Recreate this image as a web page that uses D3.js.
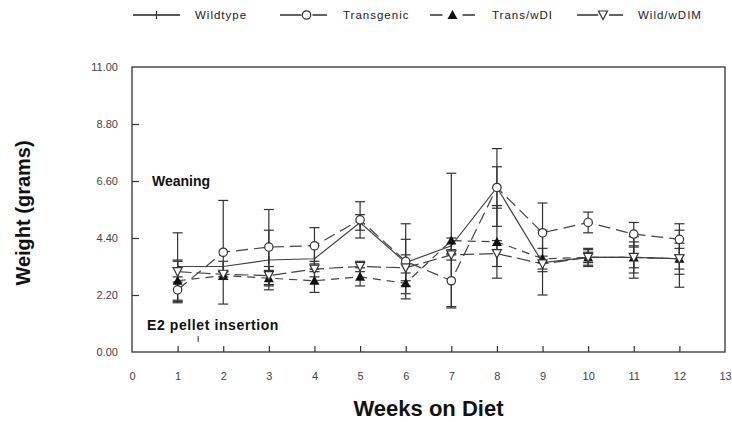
<!DOCTYPE html>
<html><head><meta charset="utf-8">
<script src="https://cdn.jsdelivr.net/npm/d3@7"></script>
<style>body{margin:0;background:#fff}svg{display:block}</style>
</head><body>
<svg id="c" width="732" height="422"></svg>
<script>
const weeks = [1,2,3,4,5,6,7,8,9,10,11,12];
const wildtype      = [3.3, 3.3, 3.55, 3.6, 5.0, 3.45, 4.1, 6.35, 3.45, 3.65, 3.65, 3.6];
const wildtypeErr   = [1.3, 0.2, 1.15, 0.5, 0.3, 0.9, 0.3, 0.8, 1.25, 0.35, 0.6, 0.6];
const transgenic    = [2.4, 3.85, 4.05, 4.1, 5.1, 3.5, 2.75, 6.35, 4.6, 5.0, 4.55, 4.35];
const transgenicErr = [0.5, 2.0, 1.45, 0.7, 0.7, 1.45, 1.0, 1.5, 1.15, 0.4, 0.45, 0.6];
const transWDI      = [2.75, 2.95, 2.85, 2.75, 2.9, 2.65, 4.3, 4.25, 3.6, 3.65, 3.65, 3.6];
const transWDIErr   = [0.8, 0.15, 0.3, 0.45, 0.35, 0.4, 2.6, 1.4, 0.4, 0.3, 0.8, 1.1];
const wildWDIM      = [3.1, 3.0, 2.95, 3.2, 3.3, 3.25, 3.75, 3.8, 3.4, 3.65, 3.65, 3.6];
const wildWDIMErr   = [0.4, 0.1, 0.35, 0.3, 0.2, 0.5, 0.2, 0.5, 0.3, 0.2, 0.4, 0.4];
const seriesNames = ["Wildtype","Transgenic","Trans/wDI","Wild/wDIM"];
const xTicks = [0,1,2,3,4,5,6,7,8,9,10,11,12,13];
const yTicks = [0,2.2,4.4,6.6,8.8,11];

const svg = d3.select("#c");
const L=132, R=725, T=67, B=352;
const x = d3.scaleLinear().domain([0,13]).range([L,R]);
const y = d3.scaleLinear().domain([0,11]).range([B,T]);
const font = "'Liberation Sans', Arial, sans-serif";

svg.append("rect").attr("x",L).attr("y",T).attr("width",R-L).attr("height",B-T)
  .attr("fill","none").attr("stroke","#333").attr("stroke-width",1.3);

const xa = svg.append("g").attr("transform",`translate(0,${B})`)
  .call(d3.axisBottom(x).tickValues(xTicks).tickFormat(d3.format("d")).tickSizeInner(-6).tickSizeOuter(0).tickPadding(20));
const ya = svg.append("g").attr("transform",`translate(${L},0)`)
  .call(d3.axisLeft(y).tickValues(yTicks).tickFormat(d3.format(".2f")).tickSizeInner(-7).tickSizeOuter(0).tickPadding(14));
[xa,ya].forEach(a=>{
  a.select(".domain").remove();
  a.selectAll("line").attr("stroke","#333").attr("stroke-width",1.2);
  a.selectAll("text").attr("font-family",font).attr("font-size",11).attr("fill","#444");
});
ya.selectAll(".tick").filter(d=>d===0||d===11).select("line").remove();
xa.selectAll(".tick").filter(d=>d===0||d===13).select("line").remove();

const series = [
  {name:seriesNames[0], v:wildtype, e:wildtypeErr, dash:null, sym:"plus"},
  {name:seriesNames[1], v:transgenic, e:transgenicErr, dash:"12,6", sym:"circle"},
  {name:seriesNames[2], v:transWDI, e:transWDIErr, dash:"8,6", sym:"tri"},
  {name:seriesNames[3], v:wildWDIM, e:wildWDIMErr, dash:"14,5", sym:"itri"}
];
const line = d3.line().x((d,i)=>x(weeks[i])).y(d=>y(d));
const g = svg.append("g");
series.forEach(s=>{
  g.append("path").attr("d",line(s.v)).attr("fill","none").attr("stroke","#444")
    .attr("stroke-width",1.2).attr("stroke-dasharray",s.dash);
});
series.forEach(s=>{
  s.v.forEach((v,i)=>{
    const cx=x(weeks[i]), y1=y(v+s.e[i]), y2=y(v-s.e[i]);
    g.append("line").attr("x1",cx).attr("x2",cx).attr("y1",y1).attr("y2",y2).attr("stroke","#333").attr("stroke-width",1.2);
    [y1,y2].forEach(yy=>g.append("line").attr("x1",cx-5).attr("x2",cx+5).attr("y1",yy).attr("y2",yy).attr("stroke","#333").attr("stroke-width",1.2));
  });
});
function symbol(sel, type, cx, cy){
  if(type==="circle") sel.append("circle").attr("cx",cx).attr("cy",cy).attr("r",4.2).attr("fill","#fff").attr("stroke","#333").attr("stroke-width",1.2);
  else if(type==="tri") sel.append("path").attr("d",`M${cx},${cy-5}L${cx+5},${cy+4}L${cx-5},${cy+4}Z`).attr("fill","#111");
  else if(type==="itri") sel.append("path").attr("d",`M${cx-4.5},${cy-4}L${cx+4.5},${cy-4}L${cx},${cy+4.5}Z`).attr("fill","#fff").attr("stroke","#333").attr("stroke-width",1.2);
  else if(type==="plus") sel.append("line").attr("x1",cx).attr("x2",cx).attr("y1",cy-4).attr("y2",cy+4).attr("stroke","#333").attr("stroke-width",1.2);
}
series.forEach(s=>{ s.v.forEach((v,i)=>symbol(g,s.sym,x(weeks[i]),y(v))); });

svg.append("text").attr("x",152).attr("y",186).text("Weaning")
  .attr("font-family",font).attr("font-weight","bold").attr("font-size",14).attr("fill","#111");
svg.append("text").attr("x",147).attr("y",330).text("E2 pellet insertion")
  .attr("font-family",font).attr("font-weight","bold").attr("font-size",14).attr("letter-spacing",0.6).attr("fill","#111");
svg.append("line").attr("x1",x(1.45)).attr("x2",x(1.45)).attr("y1",336).attr("y2",342).attr("stroke","#333");

svg.append("text").attr("x",(L+R)/2).attr("y",416).attr("text-anchor","middle").text("Weeks on Diet")
  .attr("font-family",font).attr("font-weight","bold").attr("font-size",22).attr("fill","#111");
svg.append("text").attr("transform","translate(30,213) rotate(-90)").attr("text-anchor","middle").text("Weight (grams)")
  .attr("font-family",font).attr("font-weight","bold").attr("font-size",20).attr("fill","#111");

const leg = [
  {x0:133, x1:180, tx:195},
  {x0:280, x1:327, tx:343},
  {x0:430, x1:475, tx:492},
  {x0:577, x1:623, tx:638}
];
series.forEach((s,i)=>{
  const l=leg[i], ly=15, cx=(l.x0+l.x1)/2;
  const seg=(a,b)=>svg.append("line").attr("x1",a).attr("x2",b).attr("y1",ly).attr("y2",ly).attr("stroke","#222").attr("stroke-width",1.4);
  if(s.sym==="tri"){ seg(l.x0,cx-10); seg(cx+10,l.x1); }
  else if(s.sym==="plus"){ seg(l.x0,l.x1); }
  else { seg(l.x0,cx-2); seg(cx+9,l.x1); }
  symbol(svg, s.sym, s.sym==="tri"||s.sym==="plus"?cx:cx+3, ly);
  svg.append("text").attr("x",l.tx).attr("y",ly+4).text(s.name)
    .attr("font-family",font).attr("font-size",11.5).attr("letter-spacing",1).attr("fill","#222");
});
</script>
</body></html>
